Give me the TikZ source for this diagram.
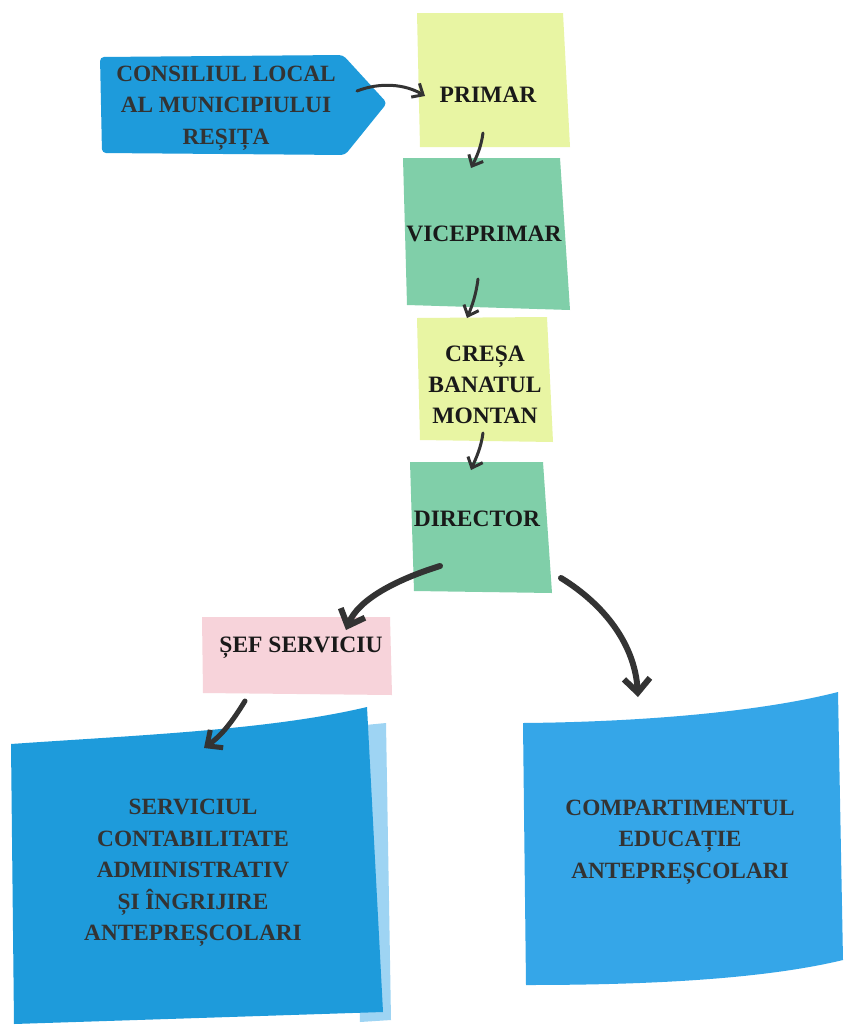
\documentclass[tikz,border=0pt]{standalone}
\usepackage{fontspec}
\setmainfont{Liberation Serif}
\usetikzlibrary{arrows.meta}
\definecolor{bluebox}{HTML}{1E9BDB}
\definecolor{bluebox2}{HTML}{35A6E8}
\definecolor{blueshadow}{HTML}{9ED4F3}
\definecolor{yelbox}{HTML}{E8F5A3}
\definecolor{grnbox}{HTML}{80CFA9}
\definecolor{pinkbox}{HTML}{F7D3DA}
\definecolor{inkc}{HTML}{333333}
\tikzset{
  lbl/.style={font=\bfseries\fontsize{23.5}{31}\selectfont, text=black!90, align=center, inner sep=0pt},
  lblb/.style={font=\bfseries\fontsize{23.3}{31.5}\selectfont, text=inkc, align=center, inner sep=0pt},
  thin arrow/.style={draw=inkc, line width=3pt, line cap=round, -{Straight Barb[length=9pt,width=16pt,line width=3pt]}},
  thick arrow/.style={draw=inkc, line width=6pt, line cap=round, -{Straight Barb[length=14pt,width=26pt,line width=6pt]}},
}
\begin{document}
\begin{tikzpicture}[x=1pt,y=-1pt]
\useasboundingbox (0,0) rectangle (846,1028);
\fill[white] (0,0) rectangle (846,1028);
% shapes
\fill[bluebox, rounded corners=4pt] (100,57) -- (343,55) -- (387,103) -- (345,155) -- (102,153) -- cycle;
\fill[yelbox] (417,13) -- (563,13) -- (570,147) -- (420,147) -- cycle;
\fill[grnbox] (403,158) -- (560,158) -- (570,310) -- (407,305) -- cycle;
\fill[yelbox] (417,318) -- (547,317) -- (553,442) -- (420,440) -- cycle;
\fill[grnbox] (410,462) -- (543,462) -- (552,593) -- (414,591) -- cycle;
\fill[pinkbox] (202,617) -- (390,617) -- (392,695) -- (203,693) -- cycle;
\fill[blueshadow] (355,726) -- (386,723) -- (391,1020) -- (360,1022) -- cycle;
\fill[bluebox] (11,744) .. controls (140,735) and (270,730) .. (367,707) -- (383,1012) -- (14,1024) -- cycle;
\fill[bluebox2] (523,723) .. controls (640,722) and (760,712) .. (838,692) -- (843,960) .. controls (760,980) and (640,985) .. (526,985) -- cycle;
% texts
\node[lblb] (consiliul) at (226,108) {CONSILIUL LOCAL\\AL MUNICIPIULUI\\REȘIȚA};
\node[lbl] (primar) at (488,95) {PRIMAR};
\node[lbl] (viceprimar) at (484,234) {VICEPRIMAR};
\node[lbl] (cresa) at (485,385) {CREȘA\\BANATUL\\MONTAN};
\node[lbl] (director) at (477,519) {DIRECTOR};
\node[lbl] (sef) at (301,648) {ȘEF SERVICIU};
\node[lblb] (serviciu) at (193,873) {SERVICIUL\\CONTABILITATE\\ADMINISTRATIV\\ȘI ÎNGRIJIRE\\ANTEPREȘCOLARI};
\node[lblb] (compart) at (680,842) {COMPARTIMENTUL\\EDUCAȚIE\\ANTEPREȘCOLARI};
% connector end points
\coordinate (c1s) at (357,91);  \coordinate (c1e) at (425,96);
\coordinate (c2s) at (483,133); \coordinate (c2e) at (471,168);
\coordinate (c3s) at (478,279); \coordinate (c3e) at (467,318);
\coordinate (c4s) at (483,433); \coordinate (c4e) at (471,470);
\coordinate (c5s) at (440,566); \coordinate (c5e) at (346,630);
\coordinate (c6s) at (561,578); \coordinate (c6e) at (638,697);
\coordinate (c7s) at (245,701); \coordinate (c7e) at (204,748);
% connectors
\draw[thin arrow] (c1s) .. controls (380,82) and (405,84) .. (c1e);
\draw[thin arrow] (c2s) .. controls (481,148) and (476,158) .. (c2e);
\draw[thin arrow] (c3s) .. controls (476,295) and (472,306) .. (c3e);
\draw[thin arrow] (c4s) .. controls (481,448) and (476,458) .. (c4e);
\draw[thick arrow] (c5s) .. controls (395,580) and (358,600) .. (c5e);
\draw[thick arrow] (c6s) .. controls (605,605) and (635,645) .. (c6e);
\draw[draw=inkc, line width=5pt, line cap=round, -{Straight Barb[length=12pt,width=22pt,line width=5pt]}] (c7s) .. controls (232,722) and (222,735) .. (c7e);
\end{tikzpicture}
\end{document}
